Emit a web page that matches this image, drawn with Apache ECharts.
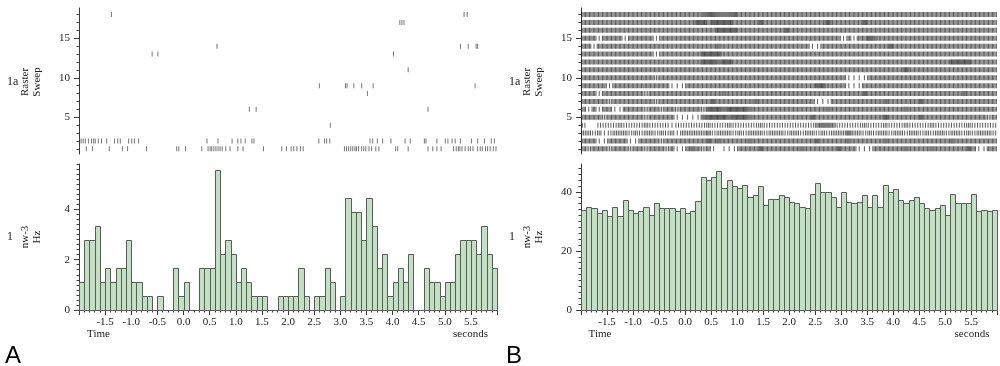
<!DOCTYPE html>
<html><head><meta charset="utf-8">
<script src="https://cdn.jsdelivr.net/npm/echarts@6/dist/echarts.min.js"></script>
<style>html,body{margin:0;padding:0;background:#fff}#c{width:1000px;height:366px}</style>
</head><body><div id="c"></div>
<script>
// ---------------- data ----------------
const binStart = -2.0;
const binWidth = 0.1;
const xTickLabels = [-1.5, -1.0, -0.5, 0.0, 0.5, 1.0, 1.5, 2.0, 2.5, 3.0, 3.5, 4.0, 4.5, 5.0, 5.5];
const rasterYTicks = [5, 10, 15];
const histAYTicks = [0, 2, 4];
const histBYTicks = [0, 20, 40];

// Panel A PSTH (Hz), 0.1 s bins from -2.0 s
const histA = [1.11,2.78,2.78,3.33,1.11,1.67,1.11,1.67,1.67,2.78,1.11,1.11,0.56,0.56,0,0.56,0,0,1.67,0.56,
  1.11,0,0,1.67,1.67,1.67,5.56,2.22,2.78,2.22,1.11,1.67,1.11,0.56,0.56,0.56,0,0,0.56,0.56,
  0.56,0.56,1.67,0.56,0,0.56,0.56,1.67,1.11,0,0.56,4.44,3.89,3.89,2.78,4.44,3.33,1.67,2.22,0.56,
  1.11,1.67,1.11,2.22,0,0,1.67,1.11,1.11,0.56,1.11,1.11,2.22,2.78,2.78,2.78,2.22,3.33,2.22,1.67];

// Panel B PSTH (Hz)
const histB = [33.8,35.0,34.5,32.9,33.8,31.8,35.0,31.8,37.2,33.8,32.9,33.5,35.0,32.3,36.2,34.5,34.5,34.5,33.5,34.5,
  32.9,33.5,36.8,45.1,43.9,45.1,47.2,41.2,43.9,41.8,41.2,42.3,38.4,38.9,41.8,35.5,37.7,37.7,38.9,38.4,
  36.7,36.2,35.0,34.5,39.4,42.9,40.0,40.0,38.4,35.0,40.0,36.7,36.2,36.7,38.9,35.0,38.9,35.0,42.3,40.0,
  41.1,37.2,36.2,37.2,38.4,36.2,34.5,33.9,34.5,35.5,32.3,39.4,36.2,36.2,36.2,39.4,33.4,33.9,33.4,33.8];

// Panel A raster: spike times (s) per sweep
const rasterA = [
  [1, [-1.86,-1.74,-1.42,-1.17,-1.07,-0.71,-0.13,-0.09,0.04,0.35,0.47,0.51,0.54,0.58,0.62,0.66,0.70,0.74,0.81,0.89,1.04,1.14,1.53,
       1.88,1.97,2.06,2.11,2.17,2.24,2.29,3.08,3.12,3.16,3.20,3.24,3.28,3.31,3.35,3.41,3.45,3.49,3.55,3.60,3.68,3.74,4.06,4.10,4.30,
       4.68,4.77,4.85,4.93,5.17,5.22,5.26,5.29,5.33,5.39,5.45,5.49,5.54,5.63,5.68,5.72,5.78,5.82,5.87,5.93,5.98]],
  [2, [-1.96,-1.92,-1.88,-1.82,-1.76,-1.72,-1.69,-1.63,-1.57,-1.47,-1.32,-1.26,-1.21,-1.05,-0.99,-0.94,-0.86,0.45,0.66,0.93,1.04,1.10,
       1.18,1.31,1.35,2.59,2.70,2.74,2.80,3.57,3.62,3.71,3.81,3.97,4.24,4.34,4.61,4.64,4.85,5.01,5.06,5.14,5.20,5.30,5.51,5.63,5.76,5.89,5.95]],
  [4, [2.81]],
  [6, [1.26,1.39,4.68]],
  [8, [3.52]],
  [9, [2.60,3.10,3.13,3.26,3.41,3.63,5.58]],
  [11, [4.30]],
  [13, [-0.60,-0.49,4.02]],
  [14, [0.64,5.30,5.45,5.60,5.63]],
  [17, [4.14,4.18,4.22]],
  [18, [-1.38,5.37,5.43]]
];

// Panel B raster: spikes per 0.1 s bin for sweeps 1..18 (read as density of the raster rows)
const rasterB = [
  '4344434443 4434443411 4543410111 4444544444 4454444445 4441114444 4454444544 4444541144',
  '4441144441 1444434444 4444545444 4454444444 4444454444 4544444454 4444444444 4544444444',
  '3323123332 3233232313 3333423332 3233323332 3323323233 3533232332 3323323233 2332323332',
  '2002222322 2232222122 2222322232 2222322222 2222245542 2222322232 2232222322 2222322222',
  '4444344444 4434444411 1115666656 6654444444 4444544444 4444444464 4444454444 4444444434',
  '4141441144 4434434434 4443566566 5654444444 4444444544 4444444444 4454444444 4444444444',
  '4444434444 4444344444 4444454444 4445444444 4444411144 4444444454 4444454444 4444444444',
  '4441444444 4434444444 4444444544 4444444444 4444444444 4444544444 4444444444 4445444444',
  '4444414444 4444444111 4444444444 4444444444 4444466444 4111444444 4444444444 4444444444',
  '4444444444 4444344444 4444444444 4444444444 4444444444 4111144444 4444444444 4444444444',
  '4444444444 4444444444 4444444444 4444444444 4444444444 4444444444 4464444444 4444444444',
  '4444444444 4444444444 4446665664 4444444444 4444444444 4444444444 4444444444 4666644444',
  '4444444444 4444144444 4446666444 4444444444 4444444444 4444444444 4444444444 4444444444',
  '4414444444 4444444444 4444445444 4444444444 4444114444 4444444446 4444444444 4444444444',
  '4441444414 4444144444 4444444444 4444444444 4444444444 1414465444 4444444444 4444444444',
  '4444444444 4444444444 4444446666 4444444446 4444444444 4444444444 4444444444 4444444444',
  '4444444444 4444444444 4466466664 4444644444 4444444644 4444644444 4444444444 4444444444',
  '4444444444 4444444444 4445555555 4444444444 4444444444 4444444444 4444444444 4444444444'
];

// ---------------- build ----------------
const SERIF = "'Liberation Serif','DejaVu Serif',serif";
const SANS = "'Liberation Sans','DejaVu Sans',sans-serif";
const AX = '#3a3a3a';

function histData(vals) {
  return vals.map((v, i) => [binStart + i * binWidth, binStart + (i + 1) * binWidth, v]);
}
function rasterAData() {
  const out = [];
  rasterA.forEach(([row, ts]) => ts.forEach(t => out.push([t, row])));
  return out;
}
function rasterBData() {
  const out = [];
  rasterB.forEach((s, r) => {
    const digits = s.replace(/\s+/g, '');
    for (let b = 0; b < digits.length; b++) {
      const n = +digits[b];
      const t0 = binStart + b * binWidth;
      for (let k = 0; k < n; k++) out.push([t0 + binWidth * (k + 0.5) / n, r + 1]);
    }
  });
  return out;
}
function range(a, b, step) { const o = []; for (let v = a; v <= b + 1e-9; v += step) o.push(Math.round(v * 1000) / 1000); return o; }

const grids = [
  { left: 79, top: 8, width: 418, height: 146 },
  { left: 79, top: 164, width: 418, height: 146 },
  { left: 581, top: 8, width: 416, height: 146 },
  { left: 581, top: 164, width: 416, height: 146 }
];

const xAxes = [], yAxes = [];
function hiddenX(g) {
  xAxes.push({ type: 'value', gridIndex: g, min: -2, max: 6, show: false, axisLine: { onZero: false } });
}
function histX(g) {
  xAxes.push({ type: 'value', gridIndex: g, min: -2, max: 6, position: 'bottom',
    axisLine: { show: true, onZero: false, lineStyle: { color: AX, width: 1 } },
    axisTick: { show: true, length: 5, customValues: range(-2, 6, 0.5), lineStyle: { color: AX } },
    axisLabel: { show: true, customValues: xTickLabels, formatter: v => v.toFixed(1), margin: 7,
      fontFamily: SERIF, fontSize: 11, color: '#222' },
    splitLine: { show: false } });
  xAxes.push({ type: 'value', gridIndex: g, min: -2, max: 6, position: 'bottom',
    axisLine: { show: false, onZero: false },
    axisTick: { show: true, length: 2.5, customValues: range(-2, 6, 0.1), lineStyle: { color: AX } },
    axisLabel: { show: false }, splitLine: { show: false } });
}
function yAxisPair(g, min, max, majors, minorStep, minorFrom, minorTo) {
  yAxes.push({ type: 'value', gridIndex: g, min, max, position: 'left',
    axisLine: { show: true, onZero: false, lineStyle: { color: AX, width: 1 } },
    axisTick: { show: true, length: 5, customValues: majors, lineStyle: { color: AX } },
    axisLabel: { show: true, customValues: majors, margin: 9, fontFamily: SERIF, fontSize: 11, color: '#222' },
    splitLine: { show: false } });
  yAxes.push({ type: 'value', gridIndex: g, min, max, position: 'left',
    axisLine: { show: false, onZero: false },
    axisTick: { show: true, length: 2.5, customValues: range(minorFrom, minorTo, minorStep), lineStyle: { color: AX } },
    axisLabel: { show: false }, splitLine: { show: false } });
}

// grid 0: raster A, grid 1: hist A, grid 2: raster B, grid 3: hist B
hiddenX(0);              // xAxis 0
histX(1);                // xAxis 1,2
hiddenX(2);              // xAxis 3
histX(3);                // xAxis 4,5
yAxisPair(0, 0.35, 18.83, rasterYTicks, 1, 1, 18);   // yAxis 0,1
yAxisPair(1, 0, 5.8, histAYTicks, 0.2, 0, 5.8);      // yAxis 2,3
yAxisPair(2, 0.35, 18.83, rasterYTicks, 1, 1, 18);   // yAxis 4,5
yAxisPair(3, 0, 49.4, histBYTicks, 2, 0, 48);        // yAxis 6,7

function histSeries(xi, yi, vals) {
  return {
    type: 'custom', xAxisIndex: xi, yAxisIndex: yi, data: histData(vals),
    encode: { x: [0, 1], y: 2 },
    renderItem: (params, api) => {
      const p0 = api.coord([api.value(0), api.value(2)]);
      const p1 = api.coord([api.value(1), 0]);
      return { type: 'rect',
        shape: { x: Math.round(p0[0]) + 0.5, y: Math.round(p0[1]) + 0.5,
                 width: Math.round(p1[0]) - Math.round(p0[0]), height: Math.round(p1[1]) - Math.round(p0[1]) },
        style: { fill: '#c2e0c2', stroke: '#5b5b5b', lineWidth: 1 } };
    },
    silent: true, animation: false
  };
}
function rasterSeries(xi, yi, data, color) {
  return { type: 'scatter', xAxisIndex: xi, yAxisIndex: yi, data,
    symbol: 'rect', symbolSize: [1, 5], itemStyle: { color },
    silent: true, animation: false, large: false };
}

const txt = (text, x, y, opts = {}) => ({
  type: 'text', x, y, rotation: opts.rot || 0, silent: true,
  style: { text, fontFamily: opts.font || SERIF, fontSize: opts.size || 11, fill: opts.color || '#222',
           align: opts.align || 'center', verticalAlign: 'middle' }
});
const graphics = [];
[0, 502].forEach(dx => {
  graphics.push(txt('1a', 7 + dx, 82, { align: 'left', size: 12 }));
  graphics.push(txt('Raster', 25 + dx, 82, { rot: Math.PI / 2 }));
  graphics.push(txt('Sweep', 37 + dx, 82, { rot: Math.PI / 2 }));
  graphics.push(txt('1', 7 + dx, 237, { align: 'left', size: 12 }));
  graphics.push(txt('nw-3', 25 + dx, 237, { rot: Math.PI / 2 }));
  graphics.push(txt('Hz', 37 + dx, 237, { rot: Math.PI / 2 }));
});
graphics.push(txt('Time', 98.5, 334));
graphics.push(txt('seconds', 470.5, 334));
graphics.push(txt('Time', 600, 334));
graphics.push(txt('seconds', 972, 334));
graphics.push(txt('A', 5, 356, { font: SANS, size: 24, align: 'left', color: '#000' }));
graphics.push(txt('B', 506, 356, { font: SANS, size: 24, align: 'left', color: '#000' }));

const chart = echarts.init(document.getElementById('c'), null, { renderer: 'canvas' });
chart.setOption({
  animation: false,
  backgroundColor: '#fff',
  grid: grids,
  xAxis: xAxes,
  yAxis: yAxes,
  series: [
    rasterSeries(0, 0, rasterAData(), 'rgba(40,40,40,0.8)'),
    histSeries(1, 2, histA),
    rasterSeries(3, 4, rasterBData(), 'rgba(15,15,15,0.85)'),
    histSeries(4, 6, histB)
  ],
  graphic: graphics
});
</script>
</body></html>
